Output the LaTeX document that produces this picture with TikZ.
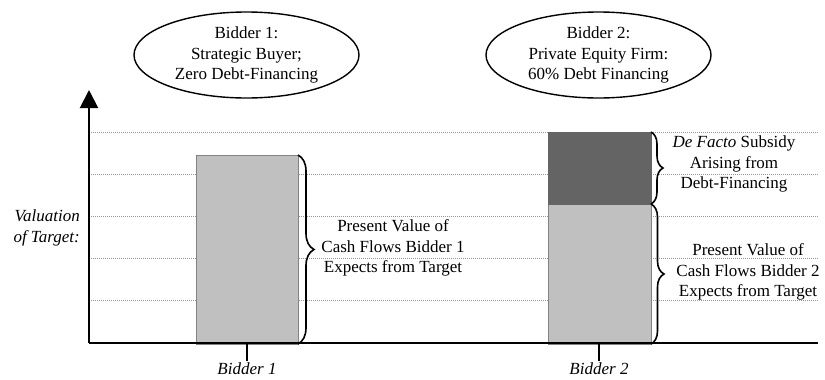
\documentclass[tikz,border=0pt]{standalone}
\usepackage{fontspec}
\setmainfont{Liberation Serif}
\usetikzlibrary{shapes.geometric,arrows.meta,decorations.pathreplacing}
\definecolor{barlight}{RGB}{192,192,192}
\definecolor{bardark}{RGB}{100,100,100}
\definecolor{barline}{RGB}{130,130,130}
\definecolor{gridc}{RGB}{150,150,150}
\begin{document}
\begin{tikzpicture}[x=1pt,y=-1pt,
  txt/.style={font=\fontsize{17}{20.5}\selectfont, align=center, inner sep=0pt},
  bubble/.style={txt, draw, line width=1.4pt, ellipse, minimum width=225pt, minimum height=86pt},
  gridln/.style={gridc, line width=0.8pt, dash pattern=on 1pt off 1pt},
  axisln/.style={line width=2pt},
  bracedec/.style={decorate, line width=1.6pt, decoration={brace, amplitude=#1}},
  tickln/.style={line width=1.6pt},
  lightbar/.style={fill=barlight, draw=barline, line width=0.6pt},
  darkbar/.style={fill=bardark, draw=bardark, line width=0.6pt}
]
\useasboundingbox (0,0) rectangle (825,380);
% grid lines
\foreach \yy in {132,174,216,258,300}
  \draw[gridln] (89,\yy) -- (818,\yy);
% bars
\coordinate (b1bl) at (196,344);
\coordinate (b1tr) at (298,155);
\coordinate (b1br) at (298,344);
\draw[lightbar] (b1bl) rectangle (b1tr);
\coordinate (b2bl) at (548,344);
\coordinate (b2mr) at (651,204);
\coordinate (b2ml) at (548,204);
\coordinate (b2tr) at (651,132);
\coordinate (b2br) at (651,344);
\draw[lightbar] (b2bl) rectangle (b2mr);
\draw[darkbar] (b2ml) rectangle (b2tr);
% axes
\coordinate (origin) at (89,343);
\coordinate (ytop) at (89,90);
\coordinate (xend) at (818,343);
\draw[axisln, -{Triangle[width=18pt,length=18pt]}] (origin) -- (ytop);
\draw[axisln] (origin) -- (xend);
% ticks
\coordinate (t1a) at (247,343); \coordinate (t1b) at (247,361);
\coordinate (t2a) at (599,343); \coordinate (t2b) at (599,361);
\draw[tickln] (t1a) -- (t1b);
\draw[tickln] (t2a) -- (t2b);
\node[txt, font=\fontsize{17}{20.5}\selectfont\itshape, anchor=north] (lab1) at (247,363) {Bidder 1};
\node[txt, font=\fontsize{17}{20.5}\selectfont\itshape, anchor=north] (lab2) at (599,363) {Bidder 2};
% y label
\node[txt, font=\fontsize{17}{20.5}\selectfont\itshape, align=right, anchor=east] (ylab) at (80,228) {Valuation\\of Target:};
% ellipses
\node[bubble] (e1) at (246.5,55) {Bidder 1:\\Strategic Buyer;\\Zero Debt-Financing};
\node[bubble] (e2) at (598.5,55) {Bidder 2:\\Private Equity Firm:\\60\% Debt Financing};
% braces
\draw[bracedec=16pt] (b1tr) -- (b1br);
\draw[bracedec=12pt] (b2tr) -- (b2mr);
\draw[bracedec=13pt] (b2mr) -- (b2br);
\node[txt] (pv1) at (393,248) {Present Value of\\Cash Flows Bidder 1\\Expects from Target};
\node[txt] (sub) at (734,164) {\textit{De Facto} Subsidy\\Arising from\\Debt-Financing};
\node[txt] (pv2) at (748,272) {Present Value of\\Cash Flows Bidder 2\\Expects from Target};
\end{tikzpicture}
\end{document}
